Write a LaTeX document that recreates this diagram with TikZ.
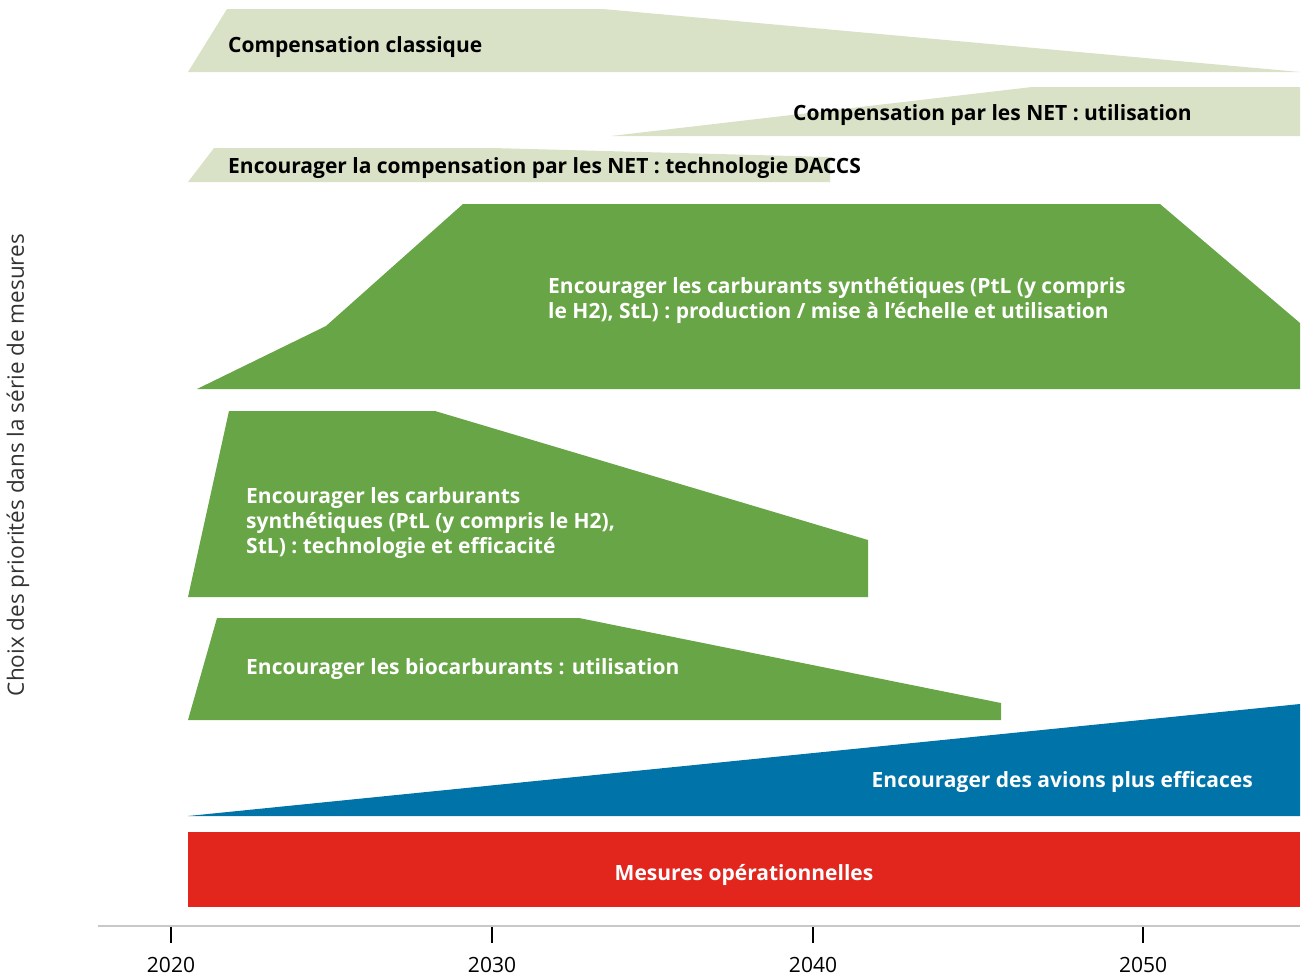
\documentclass[tikz,border=0pt]{standalone}
\usepackage{fontspec}
\setmainfont{Open Sans}
\definecolor{palegreen}{HTML}{D9E2C7}
\definecolor{midgreen}{HTML}{68A546}
\definecolor{planeblue}{HTML}{0073A8}
\definecolor{opred}{HTML}{E2261E}
\definecolor{axisgray}{HTML}{C8C8C8}
\begin{document}
\begin{tikzpicture}[x=1pt,y=-1pt,
    lbl/.style={font=\fontsize{21}{25}\selectfont\bfseries,inner sep=0pt},
    dark/.style={lbl,text=black},
    light/.style={lbl,text=white,align=left},
    yr/.style={font=\fontsize{21}{22}\selectfont,inner sep=0pt}]
    \useasboundingbox (0,0) rectangle (1314,978);

    % the bands
    \fill[palegreen] (188,72) -- (227,9) -- (603,9) -- (1300,72) -- cycle;
    \fill[palegreen] (611,136) -- (1032,87) -- (1300,87) -- (1300,136) -- cycle;
    \fill[palegreen] (188,182) -- (214,148) -- (492,148) -- (830,157) -- (830,182) -- cycle;
    \fill[midgreen] (197,389) -- (326,326) -- (463,204) -- (1160,204) -- (1300,323) -- (1300,389) -- cycle;
    \fill[midgreen] (188,597) -- (229,411) -- (435,411) -- (868,540) -- (868,597) -- cycle;
    \fill[midgreen] (188,720) -- (217,618) -- (579,618) -- (1001,703) -- (1001,720) -- cycle;
    \fill[planeblue] (188,816) -- (1300,704) -- (1300,816) -- cycle;
    \fill[opred] (188,832) rectangle (1300,907);

    % the texts
    \node[dark,anchor=base west] (classique) at (228,52) {Compensation classique};
    \node[dark,anchor=base east] (netuse) at (1192,120) {Compensation par les NET : utilisation};
    \node[dark,anchor=base west] (daccs) at (228,173) {Encourager la compensation par les NET : technologie DACCS};
    \node[light,anchor=west] (ptlprod) at (548,300.5) {Encourager les carburants synthétiques (PtL (y compris\\le H2), StL) : production / mise à l’échelle et utilisation};
    \node[light,anchor=west] (ptltech) at (246,523) {Encourager les carburants\\synthétiques (PtL (y compris le H2),\\StL) : technologie et efficacité};
    \node[light,anchor=base west] (bio) at (246,674) {Encourager les biocarburants : utilisation};
    \node[light,anchor=base east] (avions) at (1253,787) {Encourager des avions plus efficaces};
    \node[light,anchor=base] (opmes) at (744,880) {Mesures opérationnelles};

    % the axis
    \coordinate (axl) at (98,926);
    \coordinate (axr) at (1300,926);
    \draw[axisgray,line width=2pt] (axl) -- (axr);
    \foreach \yy/\xx in {2020/171,2030/492,2040/813,2050/1143}{
      \coordinate (t\yy) at (\xx,927);
      \draw[line width=1.2pt] (t\yy) -- ++(0,16);
      \node[yr,anchor=base] (y\yy) at (\xx,972) {\yy};
    }
    \node[yr,font=\fontsize{22.5}{24}\selectfont,rotate=90,text=black!80] (ylabel) at (18,465) {Choix des priorités dans la série de mesures};
  \end{tikzpicture}
\end{document}
